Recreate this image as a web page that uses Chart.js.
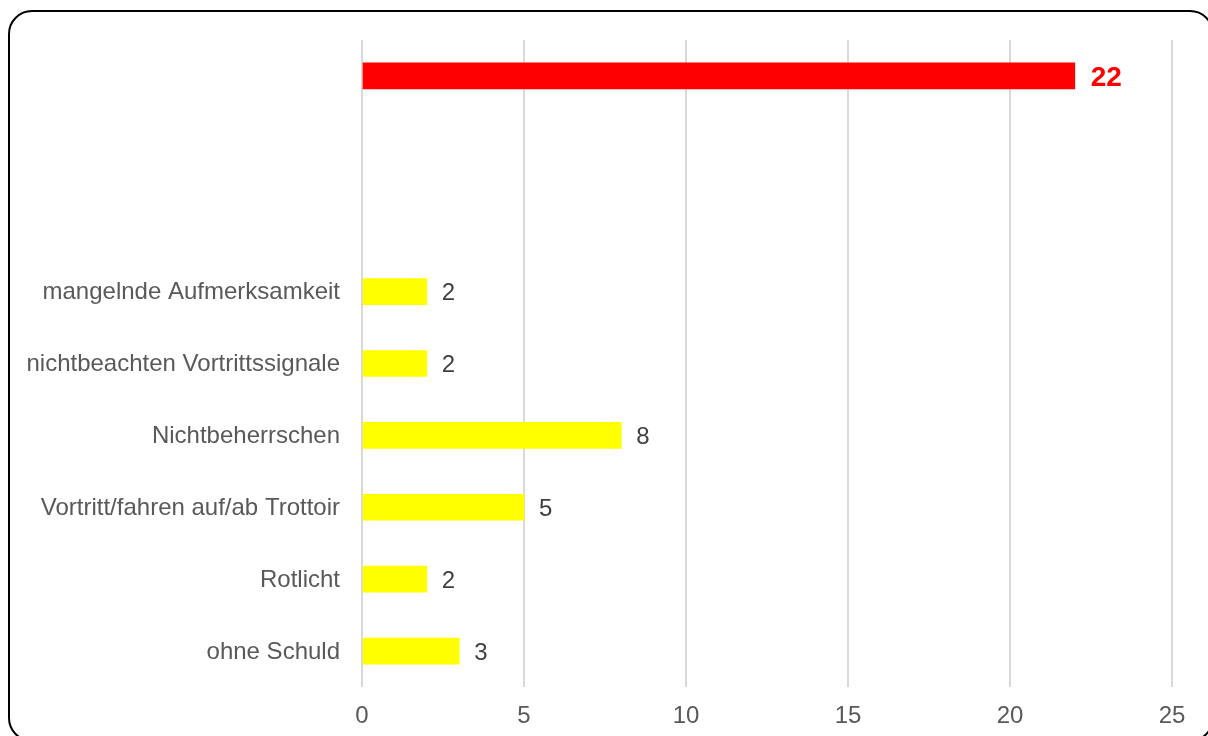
<!DOCTYPE html>
<html lang="de">
<head>
    <title></title>
    <script src="https://cdn.jsdelivr.net/npm/chart.js"></script>
    <style>
        html, body {
            margin: 0;
            padding: 0;
            background: #ffffff;
            overflow: hidden;
        }

        .frame {
            position: absolute;
            left: 8px;
            top: 10px;
            width: 1206px;
            height: 732px;
            border: 2px solid #000000;
            border-radius: 24px;
            box-sizing: border-box;
        }

        .wrap {
            position: absolute;
            left: 0;
            top: 0;
            width: 1208px;
            height: 736px;
        }
    </style>
</head>
<body>
<div class="frame"></div>
<div class="wrap">
    <canvas id="myChart" width="1208" height="736"></canvas>
</div>
<script>
    // categories top to bottom; the first row is the total without a label
    const labels = [
        '',
        '',
        '',
        'mangelnde Aufmerksamkeit',
        'nichtbeachten Vortrittssignale',
        'Nichtbeherrschen',
        'Vortritt/fahren auf/ab Trottoir',
        'Rotlicht',
        'ohne Schuld'
    ];
    const values = [22, null, null, 2, 2, 8, 5, 2, 3];
    const xTicks = [0, 5, 10, 15, 20, 25];

    const FONT = "'Liberation Sans', Arial, sans-serif";

    // writes the value right of each bar
    const valueLabels = {
        id: 'valueLabels',
        afterDatasetsDraw(chart) {
            const ctx = chart.ctx;
            const meta = chart.getDatasetMeta(0);
            ctx.save();
            ctx.textAlign = 'left';
            ctx.textBaseline = 'middle';
            meta.data.forEach((bar, i) => {
                const v = values[i];
                if (v === null) return;
                if (i === 0) {
                    ctx.fillStyle = '#ff0000';
                    ctx.font = 'bold 28px ' + FONT;
                    ctx.fillText(String(v), bar.x + 16, bar.y + 2);
                } else {
                    ctx.fillStyle = '#404040';
                    ctx.font = '24px ' + FONT;
                    ctx.fillText(String(v), bar.x + 15, bar.y + 2);
                }
            });
            ctx.restore();
        }
    };

    const ctx = document.getElementById('myChart').getContext('2d');
    const chart = new Chart(ctx, {
        type: 'bar',
        data: {
            labels: labels,
            datasets: [
                {
                    data: values,
                    backgroundColor: (c) => c.dataIndex === 0 ? '#ff0000' : '#ffff00',
                    barThickness: 26,
                    borderWidth: 0,
                },
            ],
        },
        options: {
            indexAxis: 'y',
            responsive: false,
            animation: false,
            layout: {
                padding: {top: 40, right: 36, left: 0, bottom: 0}
            },
            plugins: {
                legend: {display: false},
                tooltip: {enabled: false},
            },
            scales: {
                x: {
                    min: 0,
                    max: 25,
                    afterBuildTicks: (scale) => {
                        scale.ticks = xTicks.map(v => ({value: v}));
                    },
                    afterFit: (scale) => {
                        scale.height = 49;
                    },
                    grid: {
                        color: '#d9d9d9',
                        lineWidth: 2,
                        drawTicks: false,
                    },
                    border: {display: false},
                    ticks: {
                        color: '#595959',
                        padding: 15,
                        font: {family: FONT, size: 24},
                    },
                },
                y: {
                    afterFit: (scale) => {
                        scale.width = 362;
                    },
                    grid: {display: false, drawTicks: false},
                    border: {display: false},
                    ticks: {
                        color: '#595959',
                        padding: 22,
                        labelOffset: 1,
                        autoSkip: false,
                        font: {family: FONT, size: 24},
                    },
                },
            },
        },
        plugins: [valueLabels],
    });
</script>
</body>
</html>
